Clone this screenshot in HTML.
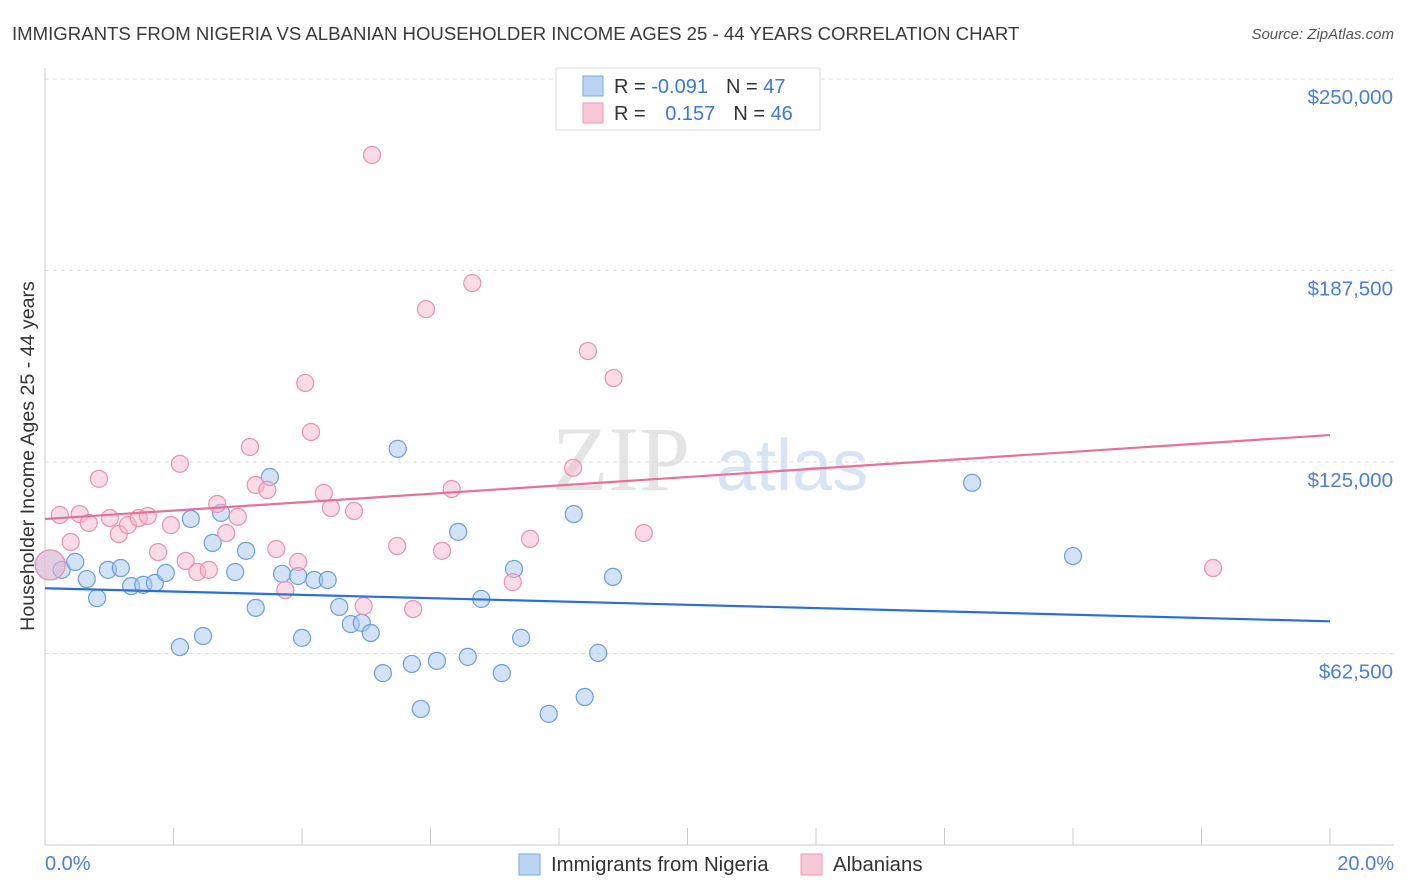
<!DOCTYPE html>
<html><head><meta charset="utf-8"><style>
body{margin:0;background:#fff;font-family:"Liberation Sans",sans-serif}
svg{display:block}
</style></head><body>
<svg id="c" width="1406" height="892">
<text x="12" y="40" font-size="18.6" fill="#3a3a3a">IMMIGRANTS FROM NIGERIA VS ALBANIAN HOUSEHOLDER INCOME AGES 25 - 44 YEARS CORRELATION CHART</text>
<text x="1394" y="39" font-size="15" fill="#555" font-style="italic" text-anchor="end">Source: ZipAtlas.com</text>
<text x="690" y="490" font-size="92" fill="#e4e4e4" text-anchor="end" font-family="Liberation Serif">ZIP</text>
<text x="716" y="490" font-size="72" fill="#d6e4f4">atlas</text>
<g id="grid"></g><g id="marks"></g>
<text transform="translate(34,456) rotate(-90)" font-size="19.6" fill="#333" text-anchor="middle">Householder Income Ages 25 - 44 years</text>
<text x="45" y="870" font-size="20" fill="#4a7fd6">0.0%</text>
<text x="1394" y="870" font-size="20" fill="#4a7fd6" text-anchor="end">20.0%</text>
<g>
<rect x="556" y="68" width="264" height="62" fill="#fff" stroke="#ddd"/>
<rect x="583" y="76" width="20" height="20" fill="#bcd4f4" stroke="#7aaae6"/>
<rect x="583" y="103" width="20" height="20" fill="#f9c8d7" stroke="#ee9ab5"/>
<text x="614" y="93" font-size="20" fill="#333">R = <tspan fill="#3a78d8">-0.091</tspan><tspan dx="18">N = </tspan><tspan fill="#3a78d8">47</tspan></text>
<text x="614" y="120" font-size="20" fill="#333">R = <tspan fill="#3a78d8" dx="14">0.157</tspan><tspan dx="18">N = </tspan><tspan fill="#3a78d8">46</tspan></text>
</g>
<g>
<rect x="519" y="854" width="21" height="21" fill="#bcd4f4" stroke="#7aaae6"/>
<text x="551" y="871" font-size="20.4" fill="#333">Immigrants from Nigeria</text>
<rect x="801" y="854" width="21" height="21" fill="#f9c8d7" stroke="#ee9ab5"/>
<text x="833" y="871" font-size="20.4" fill="#333">Albanians</text>
</g>
</svg>
<script>
const yTicks=[62.5,125,187.5,250];
const yTickLabels=["$62,500","$125,000","$187,500","$250,000"];
const blueX=[0.08,0.26,0.47,0.65,0.81,0.98,1.18,1.34,1.53,1.71,1.88,2.10,2.27,2.46,2.61,2.74,2.96,3.13,3.28,3.50,3.69,3.94,4.00,4.19,4.40,4.58,4.76,4.93,5.07,5.26,5.49,5.71,5.85,6.10,6.43,6.58,6.79,7.11,7.30,7.41,7.84,8.23,8.40,8.61,8.84,14.43,16.00];
const blueY=[91.4,89.8,92.4,86.8,80.6,89.8,90.4,84.5,84.9,85.5,88.8,64.6,106.4,68.2,98.6,108.4,89.1,96.0,77.4,120.1,88.5,87.8,67.6,86.5,86.5,77.7,72.1,72.5,69.2,56.1,129.3,59.1,44.4,60.1,102.2,61.4,80.3,56.1,90.1,67.6,42.8,108.0,48.3,62.7,87.5,118.2,94.3];
const pinkX=[0.08,0.23,0.40,0.54,0.68,0.84,1.01,1.15,1.29,1.46,1.60,1.76,1.96,2.10,2.19,2.37,2.55,2.68,2.82,3.00,3.19,3.28,3.46,3.60,3.74,3.94,4.05,4.14,4.34,4.45,4.81,4.96,5.09,5.48,5.73,5.93,6.18,6.33,6.65,7.28,7.55,8.22,8.45,8.85,9.32,18.18];
const pinkY=[91.4,107.7,98.9,108.0,105.1,119.5,106.7,101.5,104.4,106.7,107.4,95.6,104.4,124.4,92.7,89.1,89.8,111.3,101.8,107.1,129.9,117.5,115.9,96.6,83.2,92.4,150.8,134.8,114.9,110.0,109.0,78.0,225.2,97.6,77.0,174.9,96.0,116.2,183.4,85.8,99.9,123.1,161.2,152.4,101.8,90.4];
const blueTrend=[83.8,73.0];
const pinkTrend=[106.4,133.8];
const NS="http://www.w3.org/2000/svg";
const sx=v=>45+v/20*1285, sy=v=>845-v/62.5*191.5;
function mk(t,a,p){const e=document.createElementNS(NS,t);for(const k in a)e.setAttribute(k,a[k]);p.appendChild(e);return e;}
const g=document.getElementById('grid'),m=document.getElementById('marks');
yTicks.forEach((t,i)=>{
 const l=mk('line',{x1:45,x2:1394,y1:sy(t),y2:sy(t),stroke:'#ddd','stroke-dasharray':'4,4'},g);
 
 
 const tx=mk('text',{x:1393,y:sy(t)+25,'font-size':20.5,fill:'#4a7fd6','text-anchor':'end'},g);
 tx.textContent=yTickLabels[i];
 
 
});
const ax=mk('line',{x1:45,x2:1394,y1:845,y2:845,stroke:'#ccc'},g);


const ay=mk('line',{x1:45,x2:45,y1:68,y2:845,stroke:'#ccc'},g);


for(let i=1;i<=10;i++){const t=mk('line',{x1:sx(i*2),x2:sx(i*2),y1:828,y2:845,stroke:'#ccc'},g);
 
 }
function dots(X,Y,fill,stroke,name){X.forEach((x,i)=>{
 const c=mk('circle',{cx:sx(x),cy:sy(Y[i]),r:i==0?15:8.5,fill:fill,'fill-opacity':0.5,stroke:stroke,'stroke-width':1.2},m);
 
 });}
dots(blueX,blueY,'#a8c8f0','#6a9ee0','nigeria-point');
dots(pinkX,pinkY,'#f7b8cc','#ec90ae','albanian-point');
const bl=mk('line',{x1:sx(0),x2:sx(20),y1:sy(blueTrend[0]),y2:sy(blueTrend[1]),stroke:'#2a70d8','stroke-width':2.2},m);


const pl=mk('line',{x1:sx(0),x2:sx(20),y1:sy(pinkTrend[0]),y2:sy(pinkTrend[1]),stroke:'#e8709a','stroke-width':2.2},m);


</script>
</body></html>
